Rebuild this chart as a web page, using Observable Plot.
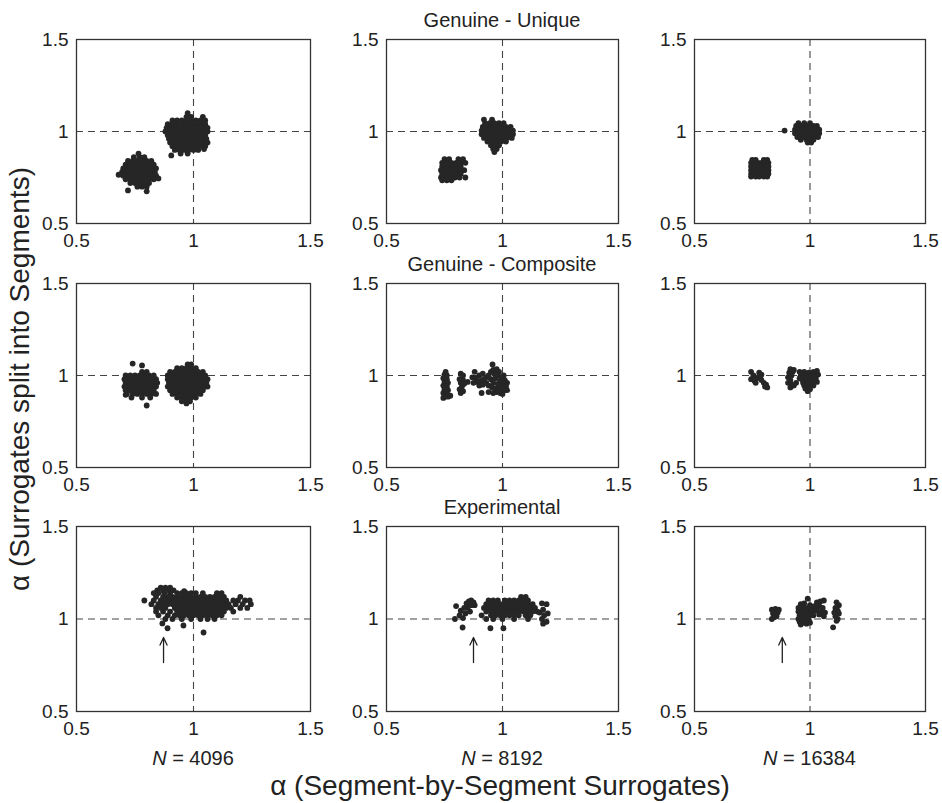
<!DOCTYPE html>
<html><head><meta charset="utf-8">
<script src="https://cdn.jsdelivr.net/npm/d3@7"></script>
<script src="https://cdn.jsdelivr.net/npm/@observablehq/plot@0.6"></script>
<style>
html,body{margin:0;padding:0;background:#fff;}
#fig{position:relative;width:942px;height:803px;overflow:hidden;font-family:"Liberation Sans",Arial,Helvetica,sans-serif;color:#222;}
#fig svg{position:absolute;}
</style></head><body><div id="fig"></div>
<script>
// ---------- values ----------
const tickValues = [0.5, 1, 1.5];
const tickLabels = ["0.5", "1", "1.5"];
const rowTitles = ["Genuine - Unique", "Genuine - Composite", "Experimental"];
const seriesLengths = ["4096", "8192", "16384"];
const xLabel = "α (Segment-by-Segment Surrogates)";
const yLabel = "α (Surrogates split into Segments)";
const refLine = [1];
const arrowX = [0.872, 0.875, 0.88];
const arrowFrom = [0.765, 0.765, 0.765];
const arrowTo = [0.90, 0.90, 0.90];

const unique4096 = [
 [0.765,0.88],[0.745,0.86],[0.77,0.86],[0.79,0.86],
 [0.72,0.84],[0.74,0.84],[0.76,0.84],[0.78,0.84],[0.80,0.84],[0.82,0.84],
 [0.71,0.82],[0.73,0.82],[0.75,0.82],[0.77,0.82],[0.79,0.82],[0.81,0.82],[0.83,0.82],
 [0.70,0.80],[0.72,0.80],[0.74,0.80],[0.76,0.80],[0.78,0.80],[0.80,0.80],[0.82,0.80],[0.84,0.80],
 [0.695,0.78],[0.715,0.78],[0.735,0.78],[0.755,0.78],[0.775,0.78],[0.795,0.78],[0.815,0.78],[0.835,0.78],
 [0.70,0.76],[0.72,0.76],[0.74,0.76],[0.76,0.76],[0.78,0.76],[0.80,0.76],[0.82,0.76],[0.84,0.76],
 [0.71,0.74],[0.73,0.74],[0.75,0.74],[0.77,0.74],[0.79,0.74],[0.81,0.74],[0.83,0.74],
 [0.73,0.72],[0.75,0.72],[0.77,0.72],[0.79,0.72],[0.81,0.72],
 [0.76,0.70],[0.78,0.70],[0.80,0.70],
 [0.72,0.68],[0.80,0.675],[0.68,0.765],[0.85,0.745],
 [0.975,1.10],[0.97,1.08],[0.99,1.08],[1.04,1.08],
 [0.91,1.06],[0.93,1.06],[0.95,1.06],[0.97,1.06],[0.99,1.06],[1.01,1.06],[1.03,1.06],[1.05,1.06],
 [0.89,1.04],[0.91,1.04],[0.93,1.04],[0.95,1.04],[0.97,1.04],[0.99,1.04],[1.01,1.04],[1.03,1.04],[1.05,1.04],
 [0.885,1.02],[0.905,1.02],[0.925,1.02],[0.945,1.02],[0.965,1.02],[0.985,1.02],[1.005,1.02],[1.025,1.02],[1.045,1.02],[1.06,1.02],
 [0.88,1.00],[0.90,1.00],[0.92,1.00],[0.94,1.00],[0.96,1.00],[0.98,1.00],[1.00,1.00],[1.02,1.00],[1.04,1.00],[1.06,1.00],
 [0.89,0.98],[0.91,0.98],[0.93,0.98],[0.95,0.98],[0.97,0.98],[0.99,0.98],[1.01,0.98],[1.03,0.98],[1.05,0.98],
 [0.895,0.96],[0.915,0.96],[0.935,0.96],[0.955,0.96],[0.975,0.96],[0.995,0.96],[1.015,0.96],[1.035,0.96],[1.055,0.96],
 [0.90,0.94],[0.92,0.94],[0.94,0.94],[0.96,0.94],[0.98,0.94],[1.00,0.94],[1.02,0.94],[1.04,0.94],[1.06,0.94],
 [0.91,0.92],[0.93,0.92],[0.95,0.92],[0.97,0.92],[0.99,0.92],[1.01,0.92],[1.03,0.92],[1.05,0.92],
 [0.92,0.90],[0.94,0.90],[0.96,0.90],[0.98,0.90],[1.00,0.90],[1.02,0.90],
 [0.945,0.88],[0.975,0.88],[0.905,0.87],[1.045,0.905]
];
const unique8192 = [
 [0.75,0.85],[0.77,0.85],[0.81,0.85],[0.83,0.85],
 [0.74,0.83],[0.76,0.83],[0.78,0.83],[0.80,0.83],[0.82,0.83],[0.84,0.83],
 [0.74,0.81],[0.76,0.81],[0.78,0.81],[0.80,0.81],[0.82,0.81],
 [0.735,0.79],[0.755,0.79],[0.775,0.79],[0.795,0.79],[0.815,0.79],[0.835,0.79],
 [0.74,0.77],[0.76,0.77],[0.78,0.77],[0.80,0.77],[0.82,0.77],
 [0.735,0.75],[0.755,0.75],[0.775,0.75],[0.795,0.75],[0.815,0.75],[0.84,0.75],
 [0.74,0.735],[0.76,0.735],[0.78,0.735],
 [0.92,1.065],[0.955,1.065],
 [0.925,1.045],[0.945,1.045],[0.965,1.045],[0.985,1.045],[1.005,1.045],
 [0.915,1.025],[0.935,1.025],[0.955,1.025],[0.975,1.025],[0.995,1.025],[1.015,1.025],[1.035,1.025],
 [0.91,1.005],[0.93,1.005],[0.95,1.005],[0.97,1.005],[0.99,1.005],[1.01,1.005],[1.03,1.005],[1.045,1.005],
 [0.91,0.985],[0.93,0.985],[0.95,0.985],[0.97,0.985],[0.99,0.985],[1.01,0.985],[1.03,0.985],[1.045,0.985],
 [0.92,0.965],[0.94,0.965],[0.96,0.965],[0.98,0.965],[1.00,0.965],[1.02,0.965],[1.04,0.965],
 [0.935,0.945],[0.955,0.945],[0.975,0.945],[0.995,0.945],[1.015,0.945],
 [0.95,0.925],[0.97,0.925],[0.985,0.925],[0.96,0.905],[0.975,0.905],[0.965,0.888]
];
const unique16384 = [
 [0.75,0.845],[0.765,0.845],[0.80,0.845],[0.815,0.845],
 [0.745,0.83],[0.76,0.83],[0.775,0.83],[0.79,0.83],[0.805,0.83],[0.82,0.83],
 [0.745,0.81],[0.76,0.81],[0.775,0.81],[0.79,0.81],[0.805,0.81],[0.82,0.81],
 [0.745,0.79],[0.76,0.79],[0.775,0.79],[0.79,0.79],[0.805,0.79],[0.82,0.79],
 [0.745,0.77],[0.76,0.77],[0.775,0.77],[0.79,0.77],[0.805,0.77],[0.82,0.77],
 [0.745,0.755],[0.765,0.755],[0.78,0.755],[0.80,0.755],[0.815,0.755],
 [0.95,1.045],[0.975,1.045],[1.00,1.045],
 [0.94,1.03],[0.955,1.03],[0.97,1.03],[0.985,1.03],[1.00,1.03],[1.015,1.03],[1.03,1.03],
 [0.935,1.01],[0.95,1.01],[0.965,1.01],[0.98,1.01],[0.995,1.01],[1.01,1.01],[1.025,1.01],[1.04,1.01],
 [0.935,0.99],[0.95,0.99],[0.965,0.99],[0.98,0.99],[0.995,0.99],[1.01,0.99],[1.025,0.99],[1.04,0.99],
 [0.945,0.97],[0.96,0.97],[0.975,0.97],[0.99,0.97],[1.005,0.97],[1.02,0.97],[1.035,0.97],
 [0.96,0.955],[0.985,0.955],[1.00,0.955],[1.015,0.955],[0.99,0.94],[1.005,0.94],
 [0.89,1.005]
];
const composite4096 = [
 [0.78,1.02],[0.80,1.02],
 [0.71,1.00],[0.73,1.00],[0.75,1.00],[0.77,1.00],[0.79,1.00],[0.81,1.00],[0.83,1.00],
 [0.705,0.98],[0.725,0.98],[0.745,0.98],[0.765,0.98],[0.785,0.98],[0.805,0.98],[0.825,0.98],[0.84,0.98],
 [0.71,0.96],[0.73,0.96],[0.75,0.96],[0.77,0.96],[0.79,0.96],[0.81,0.96],[0.83,0.96],[0.845,0.96],
 [0.705,0.94],[0.725,0.94],[0.745,0.94],[0.765,0.94],[0.785,0.94],[0.805,0.94],[0.825,0.94],[0.84,0.94],
 [0.71,0.92],[0.73,0.92],[0.75,0.92],[0.77,0.92],[0.79,0.92],[0.81,0.92],[0.83,0.92],
 [0.715,0.90],[0.74,0.90],[0.76,0.90],[0.78,0.90],[0.80,0.90],[0.82,0.90],[0.84,0.90],
 [0.735,0.88],[0.78,0.88],[0.815,0.88],
 [0.74,1.065],[0.78,1.055],[0.80,0.837],[0.71,0.895],
 [0.975,1.06],[0.99,1.06],
 [0.93,1.04],[0.95,1.04],[0.97,1.04],[0.99,1.04],[1.01,1.04],
 [0.90,1.02],[0.92,1.02],[0.94,1.02],[0.96,1.02],[0.98,1.02],[1.00,1.02],[1.02,1.02],[1.04,1.02],
 [0.89,1.00],[0.91,1.00],[0.93,1.00],[0.95,1.00],[0.97,1.00],[0.99,1.00],[1.01,1.00],[1.03,1.00],[1.05,1.00],
 [0.89,0.98],[0.91,0.98],[0.93,0.98],[0.95,0.98],[0.97,0.98],[0.99,0.98],[1.01,0.98],[1.03,0.98],[1.05,0.98],[1.06,0.98],
 [0.895,0.96],[0.915,0.96],[0.935,0.96],[0.955,0.96],[0.975,0.96],[0.995,0.96],[1.015,0.96],[1.035,0.96],[1.055,0.96],
 [0.89,0.94],[0.91,0.94],[0.93,0.94],[0.95,0.94],[0.97,0.94],[0.99,0.94],[1.01,0.94],[1.03,0.94],[1.05,0.94],[1.06,0.94],
 [0.90,0.92],[0.92,0.92],[0.94,0.92],[0.96,0.92],[0.98,0.92],[1.00,0.92],[1.02,0.92],[1.04,0.92],
 [0.91,0.90],[0.93,0.90],[0.95,0.90],[0.97,0.90],[0.99,0.90],[1.01,0.90],[1.03,0.90],
 [0.93,0.88],[0.95,0.88],[0.97,0.88],[0.99,0.88],[1.01,0.88],
 [0.95,0.86],[0.97,0.86],[0.985,0.86],[0.97,0.848]
];
const composite8192 = [
 [0.755,1.02],[0.75,1.005],[0.76,1.0],[0.745,0.985],[0.76,0.98],[0.75,0.965],[0.765,0.96],[0.745,0.945],
 [0.76,0.94],[0.75,0.925],[0.765,0.92],[0.745,0.905],[0.76,0.90],[0.75,0.885],[0.765,0.885],[0.775,0.89],[0.745,0.878],
 [0.82,1.01],[0.83,1.0],[0.815,0.98],[0.83,0.975],[0.82,0.96],[0.835,0.955],[0.85,0.965],[0.825,0.94],
 [0.815,0.925],[0.83,0.915],[0.82,0.905],
 [0.88,1.02],[0.87,0.99],[0.885,0.985],[0.90,1.0],[0.915,1.01],[0.89,0.965],[0.905,0.97],[0.92,0.98],
 [0.875,0.96],[0.90,0.945],[0.915,0.95],[0.93,0.96],[0.93,0.99],[0.94,1.0],[0.95,1.02],[0.96,1.03],
 [0.975,1.035],[0.965,1.01],[0.985,1.02],[0.98,1.0],[0.995,0.99],[1.005,1.0],[0.95,0.98],[0.97,0.985],
 [0.99,0.97],[1.01,0.975],[1.02,0.96],[0.96,0.96],[0.98,0.955],[1.0,0.95],[1.015,0.94],[0.94,0.945],
 [0.955,0.935],[0.97,0.93],[0.99,0.93],[1.005,0.92],[0.975,0.91],[0.99,0.905],[1.0,0.90],[0.96,0.905],
 [0.94,0.91],[0.91,0.905],[0.985,0.945],[1.02,0.92],[0.957,1.06]
];
const composite16384 = [
 [0.745,1.02],[0.755,1.0],[0.745,0.98],[0.76,0.97],[0.77,0.985],[0.78,1.015],[0.785,0.995],[0.79,0.975],
 [0.80,0.96],[0.81,0.95],[0.815,0.935],[0.805,0.94],[0.79,1.005],[0.765,0.96],
 [0.915,1.035],[0.93,1.03],[0.91,1.015],[0.92,1.0],[0.905,0.99],[0.915,0.975],[0.905,0.96],[0.92,0.95],
 [0.915,0.935],[0.93,0.945],[0.94,0.96],[0.925,1.02],
 [0.955,1.02],[0.975,1.02],[0.995,1.015],[1.015,1.02],[1.03,1.025],[0.96,1.0],[0.98,1.0],[1.0,1.0],
 [1.02,1.0],[1.035,1.005],[0.965,0.98],[0.985,0.98],[1.005,0.98],[1.025,0.985],[0.97,0.96],[0.99,0.96],
 [1.01,0.96],[1.03,0.965],[0.975,0.945],[0.995,0.945],[1.015,0.945],[0.98,0.93],[0.99,0.915],[1.0,0.925],
 [0.955,0.985]
];
const experimental4096 = [
 [0.86,1.17],[0.88,1.17],[0.90,1.17],
 [0.845,1.155],[0.87,1.155],[0.895,1.155],[0.915,1.155],[0.96,1.15],
 [0.83,1.14],[0.85,1.14],[0.875,1.14],[0.90,1.14],[0.93,1.14],[0.95,1.14],[0.97,1.14],[0.99,1.14],[1.01,1.14],[1.04,1.14],[1.10,1.14],[1.12,1.14],
 [0.84,1.12],[0.87,1.12],[0.89,1.12],[0.91,1.12],[0.93,1.12],[0.95,1.12],[0.97,1.12],[0.99,1.12],[1.01,1.12],[1.03,1.12],[1.05,1.12],[1.07,1.12],[1.09,1.12],[1.11,1.12],[1.13,1.12],[1.20,1.12],
 [0.79,1.10],[0.83,1.10],[0.86,1.10],[0.88,1.10],[0.90,1.10],[0.92,1.10],[0.94,1.10],[0.96,1.10],[0.98,1.10],[1.00,1.10],[1.02,1.10],[1.04,1.10],[1.06,1.10],[1.08,1.10],[1.10,1.10],[1.12,1.10],[1.14,1.10],[1.17,1.10],[1.19,1.10],[1.22,1.10],[1.24,1.10],
 [0.82,1.08],[0.85,1.08],[0.87,1.08],[0.89,1.08],[0.91,1.08],[0.93,1.08],[0.95,1.08],[0.97,1.08],[0.99,1.08],[1.01,1.08],[1.03,1.08],[1.05,1.08],[1.07,1.08],[1.09,1.08],[1.11,1.08],[1.13,1.08],[1.15,1.08],[1.18,1.08],[1.21,1.08],[1.245,1.08],
 [0.84,1.06],[0.86,1.06],[0.88,1.06],[0.92,1.06],[0.94,1.06],[0.96,1.06],[0.98,1.06],[1.00,1.06],[1.02,1.06],[1.04,1.06],[1.06,1.06],[1.08,1.06],[1.10,1.06],[1.12,1.06],[1.14,1.06],[1.16,1.06],[1.20,1.06],[1.23,1.06],
 [0.84,1.04],[0.87,1.04],[0.90,1.04],[0.93,1.04],[0.95,1.04],[0.97,1.04],[0.99,1.04],[1.01,1.04],[1.03,1.04],[1.05,1.04],[1.07,1.04],[1.09,1.04],[1.11,1.04],[1.13,1.04],[1.17,1.04],
 [0.85,1.02],[0.89,1.02],[0.92,1.02],[0.94,1.02],[0.96,1.02],[0.98,1.02],[1.00,1.02],[1.02,1.02],[1.04,1.02],[1.06,1.02],[1.08,1.02],[1.10,1.02],[1.12,1.02],
 [0.88,1.00],[0.91,1.00],[0.95,1.00],[0.99,1.00],[1.03,1.00],[1.06,1.00],[1.09,1.00],
 [0.867,0.976],[0.889,0.95],[0.957,0.965],[1.043,0.927]
];
const experimental8192 = [
 [0.80,1.07],[0.795,1.0],[0.815,1.02],[0.82,1.045],[0.835,1.06],[0.845,1.085],[0.855,1.095],[0.865,1.10],
 [0.875,1.09],[0.88,1.075],[0.865,1.075],[0.85,1.06],[0.84,1.03],[0.83,1.005],[0.828,0.954],[0.86,1.04],
 [1.08,1.12],[1.10,1.12],
 [0.94,1.10],[0.96,1.10],[0.98,1.10],[1.01,1.10],[1.03,1.10],[1.05,1.10],[1.07,1.10],[1.09,1.10],[1.11,1.10],
 [0.93,1.08],[0.95,1.08],[0.97,1.08],[0.99,1.08],[1.01,1.08],[1.03,1.08],[1.05,1.08],[1.07,1.08],[1.09,1.08],[1.11,1.08],[1.13,1.08],
 [0.92,1.06],[0.94,1.06],[0.96,1.06],[0.98,1.06],[1.00,1.06],[1.02,1.06],[1.04,1.06],[1.06,1.06],[1.08,1.06],[1.10,1.06],[1.12,1.06],[1.14,1.06],
 [0.93,1.04],[0.95,1.04],[0.97,1.04],[0.99,1.04],[1.01,1.04],[1.03,1.04],[1.05,1.04],[1.07,1.04],[1.09,1.04],[1.11,1.04],[1.13,1.04],[1.15,1.04],
 [0.91,1.02],[0.95,1.02],[0.97,1.02],[0.99,1.02],[1.01,1.02],[1.03,1.02],[1.05,1.02],[1.07,1.02],[1.10,1.02],[1.12,1.02],
 [0.93,1.00],[0.96,1.00],[1.00,1.00],[1.05,1.00],[1.11,1.00],
 [0.948,0.95],[1.004,0.95],
 [1.17,1.085],[1.19,1.08],[1.175,1.05],[1.16,1.035],[1.18,1.02],[1.195,1.03],[1.17,1.0],[1.19,0.985],[1.175,0.975]
];
const experimental16384 = [
 [0.835,1.05],[0.85,1.055],[0.865,1.05],[0.84,1.03],[0.86,1.035],[0.845,1.01],[0.835,1.0],[0.855,1.015],
 [0.99,1.11],[0.96,1.08],[0.975,1.085],[1.0,1.075],[0.95,1.06],[0.965,1.065],[0.98,1.06],[0.995,1.06],
 [1.01,1.065],[0.95,1.04],[0.965,1.04],[0.98,1.045],[0.995,1.04],[1.01,1.04],[1.025,1.045],[0.955,1.02],
 [0.97,1.02],[0.985,1.025],[1.0,1.02],[1.015,1.02],[0.95,1.0],[0.965,1.0],[0.98,1.005],[0.995,0.995],
 [0.955,0.985],[0.97,0.98],[0.985,0.975],[0.96,0.97],[1.0,0.98],
 [1.03,1.09],[1.045,1.095],[1.02,1.07],[1.04,1.07],[1.055,1.06],[1.03,1.05],[1.05,1.04],[1.065,1.035],
 [1.04,1.025],[1.06,1.015],[1.035,1.08],[1.06,1.10],
 [1.115,1.09],[1.125,1.075],[1.11,1.06],[1.12,1.045],[1.105,1.035],[1.125,1.03],[1.11,1.015],[1.12,1.0],
 [1.115,0.99],[1.10,0.955]
];

const panels = [
  unique4096, unique8192, unique16384,
  composite4096, composite8192, composite16384,
  experimental4096, experimental8192, experimental16384
];

// ---------- layout ----------
const colLeft = [76, 386, 694], colW = [234, 232, 231];
const rowTop = [39, 283, 526], rowH = [184, 184, 185];
const ML = 50, MR = 24, MT = 12, MB = 40;
const FONT = "Liberation Sans, Arial, Helvetica, sans-serif";
const fig = document.getElementById("fig");

panels.forEach((pts, i) => {
  const r = Math.floor(i / 3), c = i % 3;
  const marks = [
    Plot.ruleX(refLine, {stroke: "#444", strokeWidth: 1.1, strokeDasharray: "7,5"}),
    Plot.ruleY(refLine, {stroke: "#444", strokeWidth: 1.1, strokeDasharray: "7,5"}),
    Plot.dot(pts, {x: d => d[0], y: d => d[1], r: 2.9, fill: "#262626", stroke: "none"}),
    Plot.frame({stroke: "#333", strokeWidth: 1.3})
  ];
  if (r === 2) {
    marks.push(Plot.arrow([c], {
      x1: k => arrowX[k], x2: k => arrowX[k], y1: k => arrowFrom[k], y2: k => arrowTo[k],
      stroke: "#222", strokeWidth: 1.3, headLength: 11, headAngle: 50
    }));
  }
  const fmt = d => tickLabels[tickValues.indexOf(d)];
  const svg = Plot.plot({
    width: ML + colW[c] + MR, height: MT + rowH[r] + MB,
    marginLeft: ML, marginRight: MR, marginTop: MT, marginBottom: MB,
    style: {fontFamily: FONT, fontSize: "19px", color: "#222", background: "transparent", overflow: "visible"},
    x: {domain: [0.5, 1.5], ticks: tickValues, tickFormat: fmt, tickSize: 0, tickPadding: 10, label: null},
    y: {domain: [0.5, 1.5], ticks: tickValues, tickFormat: fmt, tickSize: 0, tickPadding: 8, label: null},
    marks
  });
  svg.style.left = (colLeft[c] - ML) + "px";
  svg.style.top = (rowTop[r] - MT) + "px";
  fig.appendChild(svg);
});

// ---------- titles and axis labels ----------
const overlay = d3.select(fig).append("svg")
  .attr("width", 942).attr("height", 803)
  .style("left", "0px").style("top", "0px")
  .attr("font-family", FONT).attr("fill", "#222");

rowTitles.forEach((t, r) => {
  overlay.append("text").attr("x", colLeft[1] + colW[1] / 2).attr("y", rowTop[r] - 12)
    .attr("text-anchor", "middle").attr("font-size", 20).text(t);
});
seriesLengths.forEach((n, c) => {
  const t = overlay.append("text").attr("x", colLeft[c] + colW[c] / 2).attr("y", 765)
    .attr("text-anchor", "middle").attr("font-size", 20);
  t.append("tspan").attr("font-style", "italic").text("N");
  t.append("tspan").text(" = " + n);
});
overlay.append("text").attr("x", 500).attr("y", 795).attr("text-anchor", "middle")
  .attr("font-size", 28).text(xLabel);
overlay.append("text").attr("transform", "translate(29,379) rotate(-90)")
  .attr("text-anchor", "middle").attr("font-size", 28).text(yLabel);
</script>
</body></html>
